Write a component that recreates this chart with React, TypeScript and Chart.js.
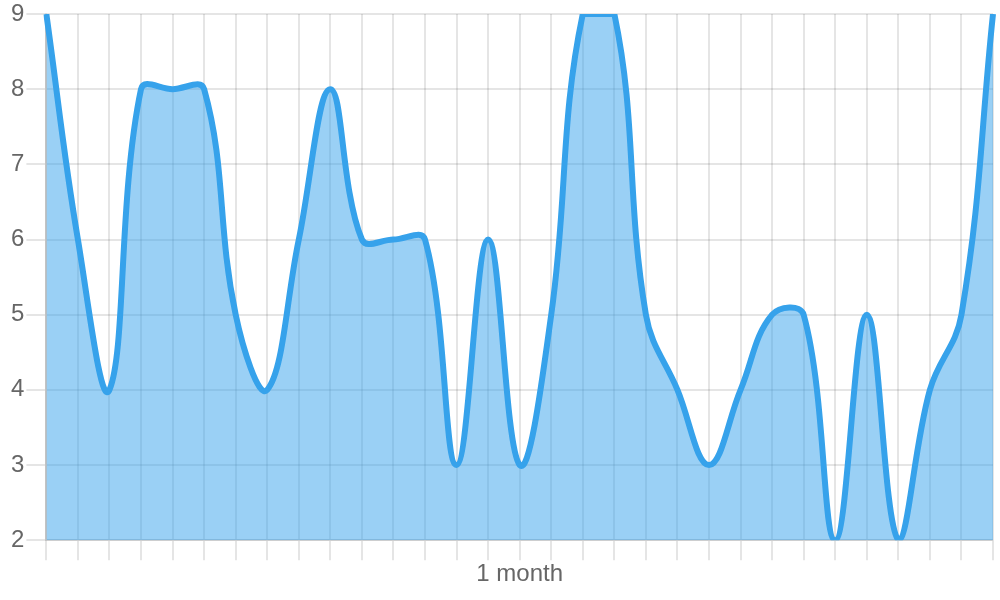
import React, { useEffect, useRef } from "react";
import { Chart, registerables } from "chart.js";

Chart.register(...registerables);

const labels: string[] = Array.from({ length: 31 }, (_, i) => (i === 15 ? "1 month" : ""));
const values: number[] = [9, 6, 4, 8, 8, 8, 5, 4, 6, 8, 6, 6, 6, 3, 6, 3, 5, 9, 9, 5, 4, 3, 4, 5, 5, 2, 5, 2, 4, 5, 9];
const yMin = 2;
const yMax = 9;

export default function App() {
  const ref = useRef<HTMLCanvasElement | null>(null);
  useEffect(() => {
    document.body.style.margin = "0";
    const ctx = ref.current!;
    const family = "Arial, 'Liberation Sans', Helvetica, sans-serif";
    const chart = new Chart(ctx, {
      type: "line",
      data: {
        labels,
        datasets: [
          {
            data: values,
            borderColor: "rgb(54,162,235)",
            backgroundColor: "rgba(54,162,235,0.5)",
            borderWidth: 6,
            fill: "start",
            tension: 0.4,
            pointRadius: 0,
          },
        ],
      },
      options: {
        responsive: false,
        animation: false,
        layout: { padding: { right: 7, top: 0, left: 9, bottom: 11 } },
        plugins: { legend: { display: false }, tooltip: { enabled: false } },
        scales: {
          x: {
            grid: { color: "rgba(0,0,0,0.1)", tickLength: 20, lineWidth: 2 },
            border: { color: "rgba(0,0,0,0.1)", width: 2 },
            ticks: { autoSkip: false, maxRotation: 0, color: "#666", font: { family, size: 24 }, padding: 0 },
          },
          y: {
            min: yMin,
            max: yMax,
            grid: { color: "rgba(0,0,0,0.1)", tickLength: 20, lineWidth: 2 },
            border: { color: "rgba(0,0,0,0.15)", width: 2 },
            ticks: { stepSize: 1, color: "#666", font: { family, size: 24, lineHeight: 1.0 }, padding: 2 },
          },
        },
      },
    });
    return () => chart.destroy();
  }, []);
  return (
    <div style={{ width: 1000, height: 600 }}>
      <canvas ref={ref} width={1000} height={600} style={{ display: "block" }} />
    </div>
  );
}
